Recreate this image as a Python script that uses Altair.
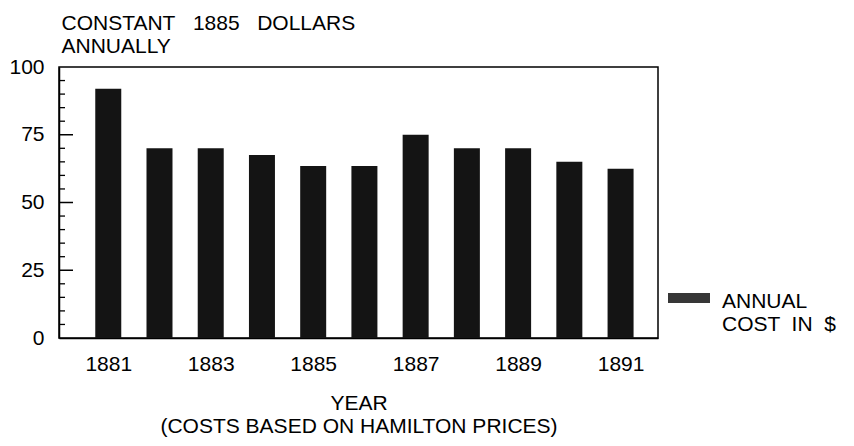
import altair as alt
import pandas as pd

# ---- data ----
years = [1881, 1882, 1883, 1884, 1885, 1886, 1887, 1888, 1889, 1890, 1891]
costs = [92, 70, 70, 67.5, 63.5, 63.5, 75, 70, 70, 65, 62.5]
series_name = "ANNUAL COST IN $"
x_tick_labels = [1881, 1883, 1885, 1887, 1889, 1891]
y_tick_labels = [0, 25, 50, 75, 100]
minor_ticks = [5, 10, 15, 20, 30, 35, 40, 45, 55, 60, 65, 70, 80, 85, 90, 95]
major_ticks = [25, 50, 75]

FONT = "Liberation Sans"
FS = 21
INK = "#141414"
NB = "\u00a0"

df = pd.DataFrame({"year": years, "cost": costs, "series": [series_name] * len(years)})
minor_df = pd.DataFrame({"cost": minor_ticks})
major_df = pd.DataFrame({"cost": major_ticks})

x_scale = alt.Scale(domain=[1880.136, 1891.633], nice=False, zero=False)
y_scale = alt.Scale(domain=[0, 100], nice=False)

y_axis = alt.Axis(
    values=y_tick_labels, ticks=False, grid=False,
    labelFont=FONT, labelFontSize=FS, labelColor="black",
    labelPadding=15,
    domainColor="black", domainWidth=1.5,
    title=[f"CONSTANT{NB}{NB} 1885{NB}{NB} DOLLARS", "ANNUALLY"],
    titleFont=FONT, titleFontSize=FS, titleFontWeight="normal",
    titleColor="black", titleAngle=0, titleAlign="left",
    titleBaseline="alphabetic", titleX=2, titleY=-38,
    titleLineHeight=23,
)

x_axis = alt.Axis(
    values=x_tick_labels, format="d", ticks=False, grid=False,
    labelFont=FONT, labelFontSize=FS, labelColor="black",
    labelBaseline="alphabetic", labelPadding=32,
    domainColor="black", domainWidth=1.5,
    title=["YEAR", "(COSTS BASED ON HAMILTON PRICES)"],
    titleFont=FONT, titleFontSize=FS, titleFontWeight="normal",
    titleColor="black", titleBaseline="alphabetic",
    titleY=71, titleLineHeight=23,
)

bars = alt.Chart(df).mark_bar(size=26).encode(
    x=alt.X("year:Q", scale=x_scale, axis=x_axis),
    y=alt.Y("cost:Q", scale=y_scale, axis=y_axis),
    color=alt.Color(
        "series:N",
        scale=alt.Scale(domain=[series_name], range=[INK]),
        legend=alt.Legend(
            title=None, orient="none", legendX=609, legendY=220, padding=0,
            symbolType="M-1,-0.714L1,-0.714L1,-0.238L-1,-0.238Z",
            symbolSize=1764, symbolStrokeWidth=0, symbolOpacity=0.85,
            labelExpr=f"['ANNUAL', 'COST {NB}IN {NB}$']",
            labelFont=FONT, labelFontSize=FS, labelColor="black",
            labelBaseline="alphabetic", labelOffset=12,
            labelLimit=0,
        ),
    ),
)

minor = alt.Chart(minor_df).mark_rule(color="black", strokeWidth=1.3).encode(
    y=alt.Y("cost:Q", scale=y_scale, axis=y_axis),
    x=alt.value(0), x2=alt.value(6),
)
major = alt.Chart(major_df).mark_rule(color="black", strokeWidth=1.5).encode(
    y=alt.Y("cost:Q", scale=y_scale, axis=y_axis),
    x=alt.value(0), x2=alt.value(14),
)

chart = (
    alt.layer(bars, minor, major)
    .properties(
        width=599, height=271,
        autosize=alt.AutoSizeParams(type="none"),
        padding={"left": 51, "top": 59, "right": 188, "bottom": 100},
        background="white",
    )
    .configure_view(stroke="black", strokeWidth=1.5)
)

chart.save("out.html", embed_options={"renderer": "svg", "actions": False})
